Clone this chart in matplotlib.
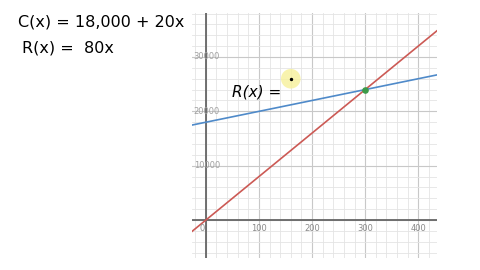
import numpy as np
import matplotlib
matplotlib.use('Agg')
import matplotlib.pyplot as plt

# cost and revenue models
fixed_cost = 18000
unit_cost = 20
unit_price = 80

x_ticks = [100, 200, 300, 400]
y_ticks = [10000, 20000, 30000]
x_range = [-27, 435]
y_range = [-7000, 38100]

cost_label = 'C(x) = 18,000 + 20x'
rev_label = 'R(x) =  80x'
note_label = 'R(x) ='

fig = plt.figure(figsize=(4.8, 2.7), dpi=100)
fig.patch.set_facecolor('white')
ax = fig.add_axes([0.399, 0.044, 0.511, 0.908])

ax.set_xlim(x_range)
ax.set_ylim(y_range)

# grid like a graphing calculator
for gx in np.arange(-20, 440, 20):
    major = gx % 100 == 0
    ax.axvline(gx, color='#c8c8c8' if major else '#e4e4e4', lw=0.8 if major else 0.6, zorder=0)
for gy in np.arange(-6000, 38100, 2000):
    major = gy % 10000 == 0
    ax.axhline(gy, color='#c8c8c8' if major else '#e4e4e4', lw=0.8 if major else 0.6, zorder=0)
ax.axhline(0, color='#666666', lw=1.3, zorder=1)
ax.axvline(0, color='#666666', lw=1.3, zorder=1)

for s in ax.spines.values():
    s.set_visible(False)
ax.set_xticks([])
ax.set_yticks([])

xs = np.array(x_range)
ax.plot(xs, fixed_cost + unit_cost * xs, color='#4f8ac9', lw=1.2, zorder=3)
ax.plot(xs, unit_price * xs, color='#cc5a55', lw=1.2, zorder=3)

be_x = fixed_cost / (unit_price - unit_cost)
ax.scatter([be_x], [unit_price * be_x], s=14, color='#3a9a48', zorder=4)

# tick labels
for t in x_ticks:
    ax.text(t, -800, str(t), ha='center', va='top', fontsize=6, color='#8a8a8a')
ax.text(-3, -800, '0', ha='right', va='top', fontsize=6, color='#8a8a8a')
for t in y_ticks:
    ax.text(-23, t, str(t), ha='left', va='center', fontsize=6, color='#a0a0a0', zorder=2)

# cursor highlight and handwritten note
ax.scatter([160], [26000], s=200, color='#f7f19a', alpha=0.8, zorder=5, edgecolors='none')
ax.scatter([160], [26000], s=2, color='black', zorder=6)
ax.text(50, 23600, note_label, fontsize=11, va='center', ha='left', style='italic', zorder=6)

fig.text(18 / 480, 1 - 22 / 270, cost_label, fontsize=11.5, va='center', ha='left')
fig.text(22 / 480, 1 - 48 / 270, rev_label, fontsize=11.5, va='center', ha='left')

fig.savefig('out.png', dpi=100)
